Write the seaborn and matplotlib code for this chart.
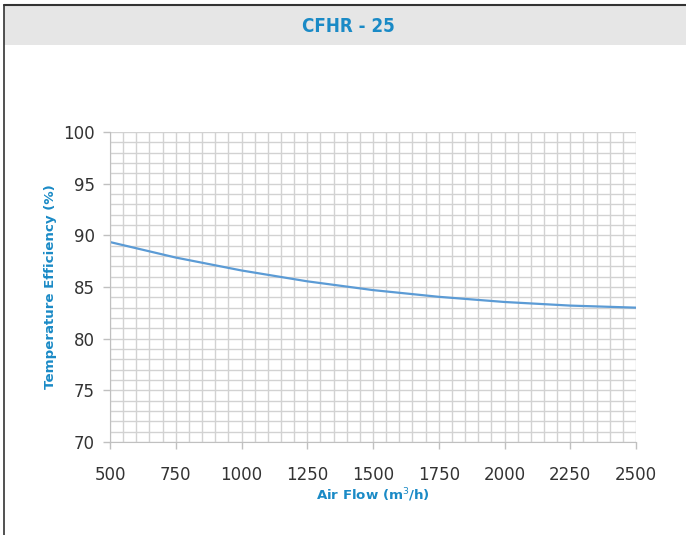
import matplotlib
matplotlib.use("Agg")
import matplotlib.pyplot as plt
from matplotlib.patches import Rectangle
from matplotlib.lines import Line2D
from matplotlib.ticker import MultipleLocator
import pandas as pd
import seaborn as sns

# values
air_flow = [500, 750, 1000, 1250, 1500, 1750, 2000, 2250, 2500]
efficiency = [89.35, 87.85, 86.6, 85.55, 84.7, 84.05, 83.55, 83.2, 83.0]
x_ticks = [500, 750, 1000, 1250, 1500, 1750, 2000, 2250, 2500]
y_ticks = [70, 75, 80, 85, 90, 95, 100]

title_text = "CFHR - 25"
blue_text = "#1a8ac6"
line_color = "#5b9bd5"
grid_color = "#d2d2d2"

sns.set_style("white")
plt.rcParams["font.family"] = ["DejaVu Sans"]

df = pd.DataFrame({"flow": air_flow, "eff": efficiency})

fig = plt.figure(figsize=(6.86, 5.35), dpi=100)

# header band and frame lines
fig.patches.append(Rectangle((4 / 686, 1 - 45 / 535), 1, 40 / 535, transform=fig.transFigure,
                             facecolor="#e6e6e6", edgecolor="none", zorder=0))
fig.lines.append(Line2D([4 / 686, 1], [1 - 5 / 535, 1 - 5 / 535], transform=fig.transFigure,
                        color="#333333", lw=1.5))
fig.lines.append(Line2D([4 / 686, 4 / 686], [0, 1 - 5 / 535], transform=fig.transFigure,
                        color="#333333", lw=1.2))
fig.text(348 / 686, 1 - 27 / 535, title_text, ha="center", va="center", color=blue_text,
         fontsize=13.5, fontweight="bold", fontstretch="condensed")

ax = fig.add_axes([110 / 686, 1 - 442 / 535, 526 / 686, 310 / 535])
sns.lineplot(data=df, x="flow", y="eff", ax=ax, color=line_color, lw=1.6)

ax.set_xlim(500, 2500)
ax.set_ylim(70, 100)
ax.set_xticks(x_ticks)
ax.set_yticks(y_ticks)
ax.xaxis.set_minor_locator(MultipleLocator(50))
ax.yaxis.set_minor_locator(MultipleLocator(1))
ax.grid(which="both", color=grid_color, lw=1.0)
ax.set_axisbelow(True)
for side in ["top", "right"]:
    ax.spines[side].set_visible(False)
for side in ["left", "bottom"]:
    ax.spines[side].set_color("#c0c0c0")
ax.tick_params(which="major", length=5, width=1, color="#c0c0c0", labelsize=12,
               labelcolor="#333333")
ax.tick_params(which="minor", length=0)
ax.tick_params(axis="x", direction="out", bottom=True, pad=12)
ax.tick_params(axis="y", direction="out", left=True, pad=6)

ax.set_xlabel("Air Flow (m$^3$/h)", color=blue_text, fontsize=9.6, fontweight="bold", labelpad=2)
ax.set_ylabel("Temperature Efficiency (%)", color=blue_text, fontsize=9.6, fontweight="bold")
ax.yaxis.set_label_coords(-53 / 526, 0.5)

fig.savefig("out.png", dpi=100)
